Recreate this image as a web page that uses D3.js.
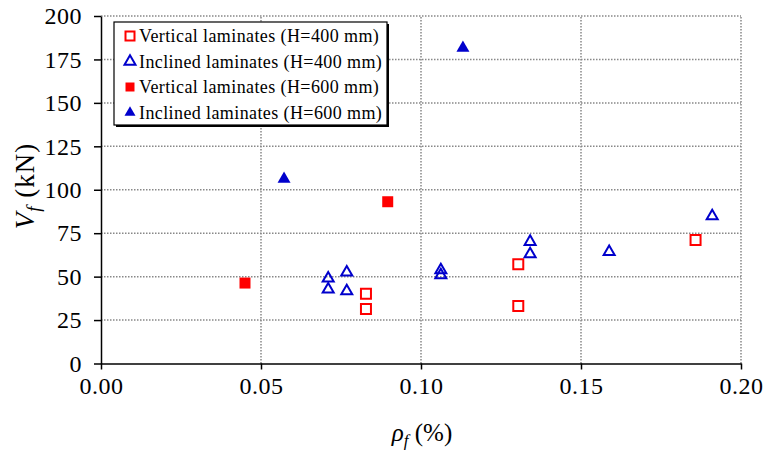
<!DOCTYPE html>
<html>
<head>
<meta charset="utf-8">
<script src="https://cdn.jsdelivr.net/npm/d3@7"></script>
<style>
  body { margin: 0; background: #fff; }
  svg text { font-family: "Liberation Serif", serif; }
  .grid line { stroke: #888; stroke-width: 1.5; stroke-dasharray: 1.5, 1.5; }
  .axis path, .axis line { stroke: #000; stroke-width: 1.5; }
</style>
</head>
<body>
<svg id="chart" width="769" height="459"></svg>
<script>
  // 数据 (rho_f %, Vf kN)
  var vert400X = [0.0828, 0.0828, 0.1304, 0.1304, 0.1858];
  var vert400Y = [40.2, 31.4, 57.1, 33.1, 71.1];
  var incl400X = [0.0710, 0.0710, 0.0768, 0.0768, 0.1062, 0.1062, 0.1341, 0.1341, 0.1588, 0.1910];
  var incl400Y = [49.0, 42.7, 52.5, 41.7, 53.8, 50.9, 70.1, 63.0, 64.3, 84.9];
  var vert600X = [0.045, 0.0896];
  var vert600Y = [46.3, 93.1];
  var incl600X = [0.0572, 0.1131];
  var incl600Y = [106.2, 181.6];

  var xTicks = [0, 0.05, 0.10, 0.15, 0.20];
  var yTicks = [0, 25, 50, 75, 100, 125, 150, 175, 200];
  var seriesNames = [
    'Vertical laminates (H=400 mm)',
    'Inclined laminates (H=400 mm)',
    'Vertical laminates (H=600 mm)',
    'Inclined laminates (H=600 mm)'
  ];

  var red = '#ff0000';
  var blue = '#0000cc';

  var series = [
    { name: seriesNames[0], xs: vert400X, ys: vert400Y, type: d3.symbolSquare, size: 10, fill: 'none', stroke: red },
    { name: seriesNames[1], xs: incl400X, ys: incl400Y, type: d3.symbolTriangle, size: 11, fill: 'none', stroke: blue },
    { name: seriesNames[2], xs: vert600X, ys: vert600Y, type: d3.symbolSquare, size: 11, fill: red, stroke: 'none' },
    { name: seriesNames[3], xs: incl600X, ys: incl600Y, type: d3.symbolTriangle, size: 13, fill: blue, stroke: 'none' }
  ];

  var svg = d3.select('#chart');

  var x = d3.scaleLinear().domain([0, 0.2]).range([101, 741]);
  var y = d3.scaleLinear().domain([0, 200]).range([363.5, 16]);

  // 网格
  var grid = svg.append('g').attr('class', 'grid');
  grid.selectAll('.h')
    .data(yTicks.slice(1))
    .enter().append('line')
    .attr('x1', x(0)).attr('x2', x(0.2))
    .attr('y1', function(d) { return y(d); })
    .attr('y2', function(d) { return y(d); });
  grid.selectAll('.v')
    .data(xTicks.slice(1))
    .enter().append('line')
    .attr('y1', y(0)).attr('y2', y(200))
    .attr('x1', function(d) { return x(d); })
    .attr('x2', function(d) { return x(d); });

  // 坐标轴
  svg.append('g')
    .attr('class', 'axis')
    .attr('transform', 'translate(0,' + y(0) + ')')
    .call(d3.axisBottom(x).tickValues(xTicks).tickFormat(d3.format('.2f')).tickSize(6).tickPadding(7).tickSizeOuter(0));

  svg.append('g')
    .attr('class', 'axis')
    .attr('transform', 'translate(' + x(0) + ',0)')
    .call(d3.axisLeft(y).tickValues(yTicks).tickSize(7).tickPadding(12).tickSizeOuter(0));

  svg.selectAll('.axis text')
    .attr('fill', '#000')
    .style('font-size', '24px')
    .style('letter-spacing', '0.5px');

  // 轴标题
  var xt = svg.append('text')
    .attr('x', 422).attr('y', 441)
    .attr('text-anchor', 'middle')
    .style('font-size', '25px');
  xt.append('tspan').attr('font-style', 'italic').text('ρ');
  xt.append('tspan').attr('font-style', 'italic').style('font-size', '17px').attr('dy', 5).text('f');
  xt.append('tspan').attr('dy', -5).text(' (%)');

  var yt = svg.append('text')
    .attr('transform', 'translate(34,186) rotate(-90)')
    .attr('text-anchor', 'middle')
    .style('font-size', '27px')
    .style('letter-spacing', '1px');
  yt.append('tspan').attr('font-style', 'italic').text('V');
  yt.append('tspan').attr('font-style', 'italic').style('font-size', '19px').attr('dy', 6).text('f');
  yt.append('tspan').attr('dy', -6).text(' (kN)');

  // 数据点
  function symbolPath(s) {
    var area = s.type === d3.symbolSquare ? s.size * s.size : s.size * s.size * Math.sqrt(3) / 4;
    return d3.symbol().type(s.type).size(area)();
  }

  series.forEach(function(s) {
    svg.append('g').selectAll('path')
      .data(s.xs.map(function(v, i) { return [v, s.ys[i]]; }))
      .enter().append('path')
      .attr('d', symbolPath(s))
      .attr('transform', function(d) { return 'translate(' + x(d[0]) + ',' + y(d[1]) + ')'; })
      .attr('fill', s.fill)
      .attr('stroke', s.stroke)
      .attr('stroke-width', 2);
  });

  // 图例
  var lg = svg.append('g').attr('transform', 'translate(114,22)');
  var lw = 273, lh = 103;
  lg.append('rect').attr('x', 2).attr('y', 2).attr('width', lw).attr('height', lh).attr('fill', '#000');
  lg.append('rect').attr('width', lw).attr('height', lh).attr('fill', '#fff').attr('stroke', '#000').attr('stroke-width', 1.2);

  var rows = lg.selectAll('.row')
    .data(series)
    .enter().append('g')
    .attr('transform', function(d, i) { return 'translate(0,' + (14 + i * 25.5) + ')'; });
  rows.append('path')
    .attr('d', function(d) {
      var s = Object.assign({}, d, { size: d.type === d3.symbolSquare ? 9 : 11 });
      return symbolPath(s);
    })
    .attr('transform', 'translate(16,0)')
    .attr('fill', function(d) { return d.fill; })
    .attr('stroke', function(d) { return d.stroke; })
    .attr('stroke-width', 2);
  rows.append('text')
    .attr('x', 25)
    .attr('dy', '0.35em')
    .style('font-size', '18px')
    .style('letter-spacing', '0.4px')
    .text(function(d) { return d.name; });
</script>
</body>
</html>
